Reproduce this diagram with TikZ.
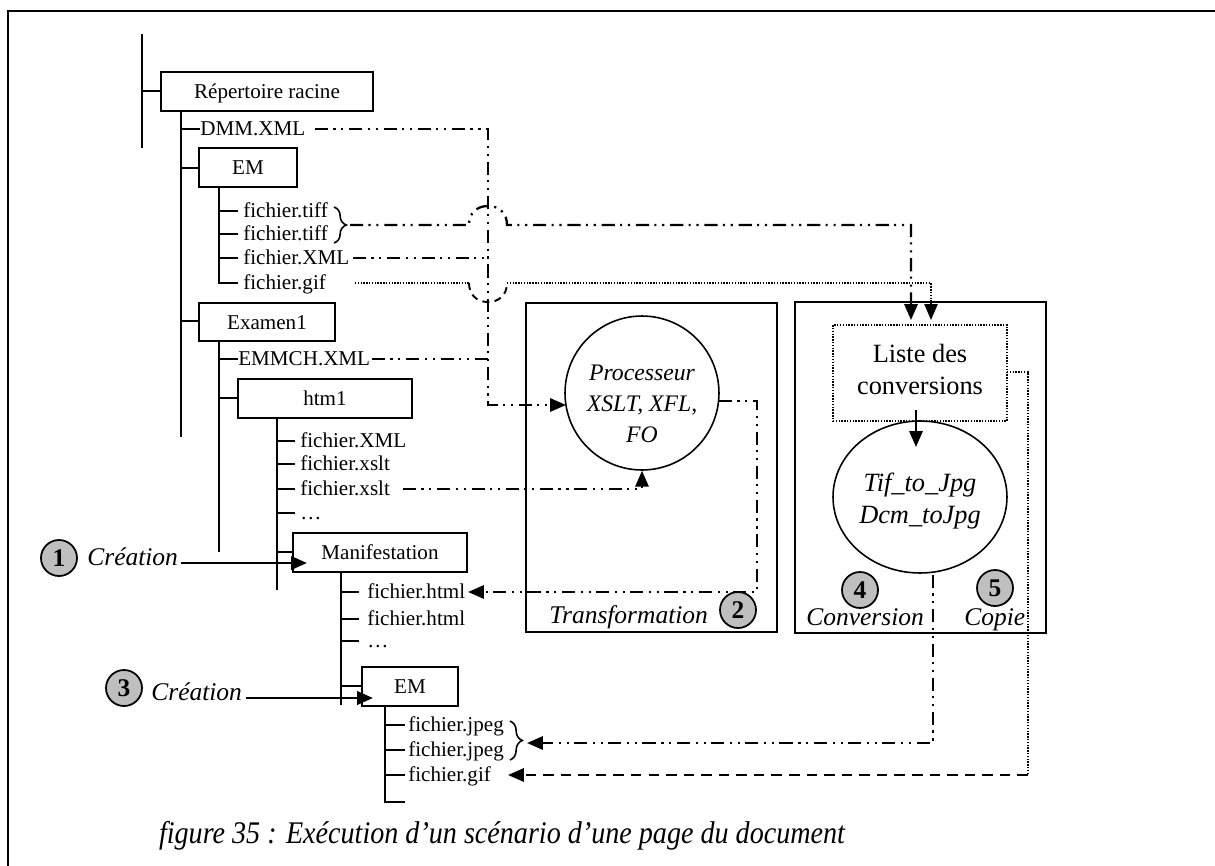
\documentclass[tikz,border=0pt]{standalone}
\usepackage{fontspec}
\setmainfont{Liberation Serif}
\usetikzlibrary{arrows.meta,shapes.geometric,fit,decorations.pathreplacing}

\newcommand\fsfile{\fontsize{12}{14}\selectfont}
\newcommand\fslab{\fontsize{14.5}{17}\selectfont}
\newcommand\fsproc{\fontsize{13.5}{17.5}\selectfont}
\newcommand\fsconv{\fontsize{15}{18.2}\selectfont}
\newcommand\fscap{\fontsize{16}{19}\selectfont}

\tikzset{
  frameline/.style={line width=1.3pt},
  tree/.style={line width=1.1pt},
  dirbox/.style={draw, line width=1pt, inner sep=0pt},
  dirtext/.style={inner sep=0pt, font=\fsfile, text height=8.2pt, text depth=0pt},
  fname/.style={anchor=base west, inner sep=0pt, font=\fsfile},
  lab/.style={anchor=base west, inner sep=0pt, font=\fslab\itshape},
  panel/.style={draw, line width=1pt, inner sep=0pt},
  ddot/.style={line width=1.3pt, dash pattern=on 7.5pt off 3pt on 1.2pt off 3.3pt on 1.2pt off 3.3pt},
  fdot/.style={line width=0.8pt, dash pattern=on 0.8pt off 0.8pt},
  dashline/.style={line width=1.3pt, dash pattern=on 6pt off 4pt},
  tip/.style={-{Triangle[length=9pt,width=7.5pt]}},
  numc/.style={circle, draw, line width=1pt, fill=black!25, minimum size=0.72cm,
               inner sep=0pt, font=\fslab\bfseries},
  bracestyle/.style={decorate, decoration={brace, amplitude=7pt, aspect=0.5}, line width=0.9pt}
}

\begin{document}
\begin{tikzpicture}[x=0.02cm, y=-0.02cm]
\useasboundingbox (0,0) rectangle (1215,866);

% outer frame
\draw[frameline] (8,866) -- (8,11) -- (1215,11);

% ---------- directory tree ----------
\draw[tree] (142,34) -- (142,148);
\draw[tree] (142,91) -- (161,91);
\node[dirbox, fit={(161,72)(373,111)}] (root) {};
\node[dirtext] (rootT) at (root.center) {Répertoire racine};

\draw[tree] (181,111) -- (181,437);
\draw[tree] (181,129) -- (200,129);
\node[fname] (dmm) at (200,135) {DMM.XML};
\draw[tree] (181,168) -- (199,168);
\node[dirbox, fit={(199,148)(297,187)}] (emA) {};
\node[dirtext] (emAT) at (emA.center) {EM};
\draw[tree] (181,321) -- (199,321);
\node[dirbox, fit={(199,303)(335,341)}] (exam) {};
\node[dirtext] (examT) at (exam.center) {Examen1};

% files of the first EM
\draw[tree] (219,187) -- (219,283) -- (238,283);
\foreach \yy in {211,234,258} \draw[tree] (219,\yy) -- (238,\yy);
\node[fname] (tiffA) at (243,217) {fichier.tiff};
\node[fname] (tiffB) at (243,240) {fichier.tiff};
\node[fname] (xmlA)  at (243,264) {fichier.XML};
\node[fname] (gifA)  at (243,289) {fichier.gif};
\draw[bracestyle] (334,207) -- (334,243);

% content of Examen1
\draw[tree] (219,341) -- (219,552);
\draw[tree] (219,359) -- (238,359);
\node[fname] (emmch) at (238,365) {EMMCH.XML};
\draw[tree] (219,398) -- (238,398);
\node[dirbox, fit={(238,379)(412,418)}] (htm) {};
\node[dirtext] (htmT) at (htm.center) {htm1};

% content of htm1
\draw[tree] (277,418) -- (277,590);
\foreach \yy in {441,464,489,513} \draw[tree] (277,\yy) -- (295,\yy);
\node[fname] (xmlB)  at (300,447) {fichier.XML};
\node[fname] (xsltA) at (300,470) {fichier.xslt};
\node[fname] (xsltB) at (300,495) {fichier.xslt};
\node[fname] (dotsA) at (300,519) {…};
\draw[tree] (277,552) -- (293,552);
\node[dirbox, fit={(293,533)(467,572)}] (manif) {};
\node[dirtext] (manifT) at (manif.center) {Manifestation};

% content of Manifestation
\draw[tree] (341,572) -- (341,705);
\foreach \yy in {592,619,641} \draw[tree] (341,\yy) -- (359,\yy);
\node[fname] (htmlA) at (367,598) {fichier.html};
\node[fname] (htmlB) at (367,625) {fichier.html};
\node[fname] (dotsB) at (367,647) {…};
\draw[tree] (341,686) -- (362,686);
\node[dirbox, fit={(362,667)(458,706)}] (emB) {};
\node[dirtext] (emBT) at (emB.center) {EM};

% files of the second EM
\draw[tree] (385,706) -- (385,802) -- (405,802);
\foreach \yy in {725,750,775} \draw[tree] (385,\yy) -- (405,\yy);
\node[fname] (jpegA) at (408,731) {fichier.jpeg};
\node[fname] (jpegB) at (408,756) {fichier.jpeg};
\node[fname] (gifB)  at (408,781) {fichier.gif};
\draw[bracestyle] (510,721) -- (510,760);

% ---------- creation steps ----------
\node[numc] (n1) at (59,558) {1};
\node[lab] (cr1) at (87,565) {Création};
\coordinate (cr1s) at (181,563);
\coordinate (cr1e) at (307,563);
\draw[line width=1.6pt, tip] (cr1s) -- (cr1e);

\node[numc] (n3) at (124,688) {3};
\node[lab] (cr3) at (151,700) {Création};
\coordinate (cr3s) at (246,698);
\coordinate (cr3e) at (373,698);
\draw[line width=1.6pt, tip] (cr3s) -- (cr3e);

% ---------- transformation panel ----------
\node[panel, fit={(526,303)(777,632)}] (trans) {};
\node[circle, draw, line width=0.9pt, minimum size=3.08cm, inner sep=0pt] (proc) at (642,393) {};
\node[font=\fsproc\itshape, align=center, inner sep=0pt] (proctxt) at (642,404) {Processeur\\XSLT, XFL,\\FO};
\node[lab] (transl) at (549,623) {Transformation};
\node[numc] (n2) at (738,610) {2};

% ---------- conversion panel ----------
\node[panel, fit={(795,302)(1046,633)}] (conv) {};
\node[fdot, draw, inner sep=0pt, fit={(833,325)(1007,421)}] (liste) {};
\node[font=\fsconv, align=center, inner sep=0pt] (listetxt) at (920,369) {Liste des\\conversions};
\node[ellipse, draw, line width=0.9pt, minimum width=3.48cm, minimum height=3.04cm, inner sep=0pt] (tif) at (920,497) {};
\node[font=\fsconv\itshape, align=center, inner sep=0pt] (tiftxt) at (920,501) {Tif\_to\_Jpg\\Dcm\_toJpg};
\node[numc] (n4) at (860,590) {4};
\node[lab] (convl) at (806,625) {Conversion};
\node[numc] (n5) at (995,588) {5};
\node[lab] (copl) at (964,625) {Copie};

\coordinate (lsA) at (916,410);
\coordinate (lsB) at (916,447);
\draw[line width=1.2pt, tip] (lsA) -- (lsB);

% ---------- flows ----------
% DMM.XML and EMMCH.XML / fichier.XML towards the processor
\coordinate (dmmS) at (315,129);
\coordinate (busT) at (488,129);
\coordinate (busB) at (488,405);
\coordinate (procIn) at (566,405);
\draw[ddot, tip] (dmmS) -- (busT) -- (busB) -- (procIn);
\coordinate (xmlS) at (353,258);
\coordinate (xmlE) at (488,258);
\draw[ddot] (xmlS) -- (xmlE);
\coordinate (emmS) at (372,359);
\coordinate (emmE) at (488,359);
\draw[ddot] (emmS) -- (emmE);

% fichier.xslt into the processor
\coordinate (xslS) at (403,489);
\coordinate (xslC) at (642,489);
\draw[ddot, tip] (xslS) -- (xslC) -- (proc.south);

% processor output to fichier.html
\coordinate (poA) at (719,401);
\coordinate (poB) at (757,401);
\coordinate (poC) at (757,592);
\coordinate (poD) at (468,592);
\draw[ddot, tip] (poA) -- (poB) -- (poC) -- (poD);

% tiff files to the conversion list (hop over the bus)
\coordinate (tfS) at (350,225);
\coordinate (tfH1) at (469,225);
\coordinate (tfH2) at (507,225);
\coordinate (tfC) at (911,225);
\coordinate (tfE) at (911,320);
\draw[ddot, tip] (tfS) -- (tfH1) .. controls (469,213) and (477,206) .. (488,206)
      .. controls (499,206) and (507,213) .. (tfH2) -- (tfC) -- (tfE);

% gif file to the conversion list (hop under the bus)
\coordinate (gfS) at (355,283);
\coordinate (gfH1) at (469,283);
\coordinate (gfH2) at (507,283);
\coordinate (gfC) at (931,283);
\coordinate (gfE) at (931,320);
\draw[fdot] (gfS) -- (gfH1);
\draw[line width=1.1pt, dash pattern=on 4pt off 3pt] (gfH1) .. controls (469,295) and (477,302) .. (488,302)
      .. controls (499,302) and (507,295) .. (gfH2);
\draw[fdot, tip] (gfH2) -- (gfC) -- (gfE);

% conversion output to the jpeg files
\coordinate (cvA) at (933,575);
\coordinate (cvB) at (933,743);
\coordinate (cvC) at (527,743);
\draw[ddot, tip] (cvA) -- (cvB) -- (cvC);

% copy of the gif file
\coordinate (cpA) at (1007,372);
\coordinate (cpB) at (1028,372);
\coordinate (cpC) at (1028,775);
\coordinate (cpD) at (508,775);
\draw[fdot] (cpA) -- (cpB) -- (cpC);
\draw[dashline, tip] (cpC) -- (cpD);

% caption
\node[font=\fscap\itshape, inner sep=0pt] (cap) at (502,836)
  {\scalebox{1}[1.12]{figure 35 : Exécution d’un scénario d’une page du document}};
\end{tikzpicture}
\end{document}
